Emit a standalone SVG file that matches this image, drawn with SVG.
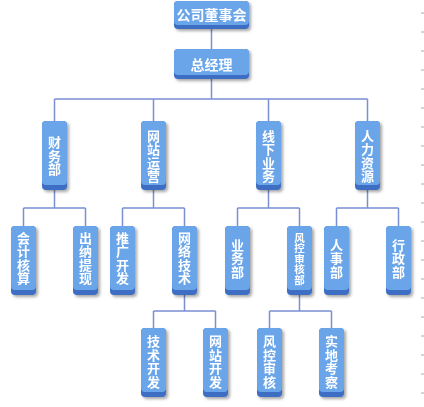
<svg xmlns="http://www.w3.org/2000/svg" width="424" height="407" viewBox="0 0 424 407">
<style>
.bd{fill:#3d6ec4}
.tp{fill:#6aa5ea}
.t{fill:#ffffff;font-family:"Noto Sans CJK SC","Noto Sans",sans-serif;font-weight:bold;text-anchor:middle}
.h{font-size:14px;dominant-baseline:central}
.v{font-size:13px;writing-mode:vertical-rl;letter-spacing:0.5px}
.s{font-size:10.5px;writing-mode:vertical-rl;letter-spacing:0px}
.c{fill:none;stroke:#7b8fd4;stroke-width:1.5}
.tick{stroke:#aaaaaa;stroke-width:1}
</style>
<defs>
<filter id="sh" x="-30%" y="-30%" width="170%" height="170%">
<feDropShadow dx="2" dy="2" stdDeviation="1.8" flood-color="#000" flood-opacity="0.35"/>
</filter>
</defs>
<rect width="424" height="407" fill="#ffffff"/>
<g id="ticks">
<path class="tick" d="M421 13H424M421 32H424M421 51H424M421 70H424M421 89H424M421 108H424M421 127H424M421 146H424M421 165H424M421 184H424M421 203H424M421 222H424M421 241H424M421 260H424M421 279H424M421 298H424M421 317H424M421 336H424M421 355H424M421 374H424M421 393H424"/>
</g>
<g id="connectors">
<path class="c" d="M211.5 29V49M211.5 79V99M54.5 99H367.5M54.5 99V121M153.5 99V121M268.5 99V121M367.5 99V121"/>
<path class="c" d="M54.5 190V208M23.5 208H85.5M23.5 208V226M85.5 208V226"/>
<path class="c" d="M153.5 190V208M122.5 208H184.5M122.5 208V226M184.5 208V226"/>
<path class="c" d="M268.5 190V208M237.5 208H299.5M237.5 208V226M299.5 208V226"/>
<path class="c" d="M367.5 190V208M336.5 208H398.5M336.5 208V226M398.5 208V226"/>
<path class="c" d="M184.5 295V311M153.5 311H215.5M153.5 311V328M215.5 311V328"/>
<path class="c" d="M299.5 295V311M269.5 311H331.5M269.5 311V328M331.5 311V328"/>
</g>
<g id="n-board" filter="url(#sh)"><rect class="bd" x="174" y="1" width="75" height="28" rx="4"/><rect class="tp" x="174" y="1" width="75" height="24" rx="4"/><text class="t h" x="211.5" y="14">公司董事会</text></g>
<g id="n-gm" filter="url(#sh)"><rect class="bd" x="174" y="49" width="75" height="30" rx="4"/><rect class="tp" x="174" y="49" width="75" height="26" rx="4"/><text class="t h" x="211.5" y="63.5">总经理</text></g>

<g id="n-finance" filter="url(#sh)"><rect class="bd" x="42" y="121" width="25" height="69" rx="4"/><rect class="tp" x="42" y="121" width="25" height="64" rx="4"/><text class="t v" x="54.5" y="156">财务部</text></g>
<g id="n-web" filter="url(#sh)"><rect class="bd" x="141" y="121" width="25" height="69" rx="4"/><rect class="tp" x="141" y="121" width="25" height="64" rx="4"/><text class="t v" x="153.5" y="156.5">网站运营</text></g>
<g id="n-offline" filter="url(#sh)"><rect class="bd" x="256" y="121" width="25" height="69" rx="4"/><rect class="tp" x="256" y="121" width="25" height="64" rx="4"/><text class="t v" x="268.5" y="156.5">线下业务</text></g>
<g id="n-hr" filter="url(#sh)"><rect class="bd" x="355" y="121" width="25" height="69" rx="4"/><rect class="tp" x="355" y="121" width="25" height="64" rx="4"/><text class="t v" x="367.5" y="156.5">人力资源</text></g>

<g id="n-acct" filter="url(#sh)"><rect class="bd" x="11" y="226" width="25" height="69" rx="4"/><rect class="tp" x="11" y="226" width="25" height="64" rx="4"/><text class="t v" x="23.5" y="258.5">会计核算</text></g>
<g id="n-cashier" filter="url(#sh)"><rect class="bd" x="73" y="226" width="25" height="69" rx="4"/><rect class="tp" x="73" y="226" width="25" height="64" rx="4"/><text class="t v" x="85.5" y="258.5">出纳提现</text></g>
<g id="n-promo" filter="url(#sh)"><rect class="bd" x="110" y="226" width="25" height="69" rx="4"/><rect class="tp" x="110" y="226" width="25" height="64" rx="4"/><text class="t v" x="122.5" y="258.5">推广开发</text></g>
<g id="n-nettech" filter="url(#sh)"><rect class="bd" x="172" y="226" width="25" height="69" rx="4"/><rect class="tp" x="172" y="226" width="25" height="64" rx="4"/><text class="t v" x="184.5" y="258.5">网络技术</text></g>
<g id="n-biz" filter="url(#sh)"><rect class="bd" x="225" y="226" width="25" height="69" rx="4"/><rect class="tp" x="225" y="226" width="25" height="64" rx="4"/><text class="t v" x="237.5" y="258.5">业务部</text></g>
<g id="n-risk" filter="url(#sh)"><rect class="bd" x="287" y="226" width="25" height="69" rx="4"/><rect class="tp" x="287" y="226" width="25" height="64" rx="4"/><text class="t s" x="299.5" y="259">风控审核部</text></g>
<g id="n-personnel" filter="url(#sh)"><rect class="bd" x="324" y="226" width="25" height="69" rx="4"/><rect class="tp" x="324" y="226" width="25" height="64" rx="4"/><text class="t v" x="336.5" y="258.5">人事部</text></g>
<g id="n-admin" filter="url(#sh)"><rect class="bd" x="386" y="226" width="25" height="69" rx="4"/><rect class="tp" x="386" y="226" width="25" height="64" rx="4"/><text class="t v" x="398.5" y="258.5">行政部</text></g>

<g id="n-techdev" filter="url(#sh)"><rect class="bd" x="141" y="328" width="25" height="69" rx="4"/><rect class="tp" x="141" y="328" width="25" height="64" rx="4"/><text class="t v" x="153.5" y="362">技术开发</text></g>
<g id="n-webdev" filter="url(#sh)"><rect class="bd" x="203" y="328" width="25" height="69" rx="4"/><rect class="tp" x="203" y="328" width="25" height="64" rx="4"/><text class="t v" x="215.5" y="362">网站开发</text></g>
<g id="n-riskreview" filter="url(#sh)"><rect class="bd" x="257" y="328" width="25" height="69" rx="4"/><rect class="tp" x="257" y="328" width="25" height="64" rx="4"/><text class="t v" x="269.5" y="362">风控审核</text></g>
<g id="n-survey" filter="url(#sh)"><rect class="bd" x="319" y="328" width="25" height="69" rx="4"/><rect class="tp" x="319" y="328" width="25" height="64" rx="4"/><text class="t v" x="331.5" y="362">实地考察</text></g>
</svg>
